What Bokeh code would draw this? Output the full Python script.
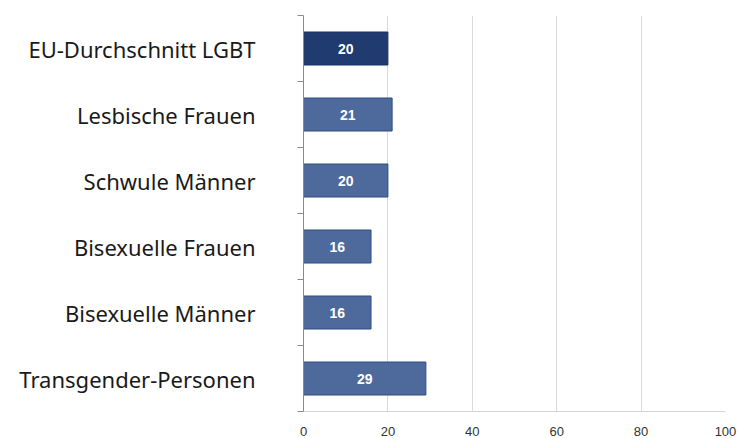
from bokeh.plotting import figure
from bokeh.models import LinearAxis, FixedTicker, ColumnDataSource, Range1d
from bokeh.core.properties import value
from bokeh.embed import file_html
from bokeh.resources import INLINE

categories = ["EU-Durchschnitt LGBT", "Lesbische Frauen", "Schwule Männer",
              "Bisexuelle Frauen", "Bisexuelle Männer", "Transgender-Personen"]
values = [20, 21, 20, 16, 16, 29]
x_ticks = [0, 20, 40, 60, 80, 100]

n = len(categories)
ys = [n - 0.5 - i for i in range(n)]
fills = ["#1f3b70"] + ["#4e6a9c"] * (n - 1)
lines = ["#1a3263"] + ["#2f4d80"] * (n - 1)

src = ColumnDataSource(dict(y=ys, v=values, half=[v / 2 for v in values],
                            lbl=[str(v) for v in values], fill=fills, line=lines))

p = figure(width=739, height=438, output_backend="svg", toolbar_location=None,
           x_range=Range1d(0, 100), y_range=Range1d(0, n),
           min_border_left=303, min_border_right=14, min_border_top=15, min_border_bottom=24,
           x_axis_location="below", y_axis_location=None)
p.outline_line_color = None
p.background_fill_color = "white"
p.border_fill_color = "white"

p.hbar(y="y", right="v", left=0, height=0.5, source=src,
       fill_color="fill", line_color="line", line_width=1)
p.text(x="half", y="y", text="lbl", source=src, text_color="white",
       text_font=value("Liberation Sans"), text_font_style="bold",
       text_font_size="14px", text_align="center", text_baseline="middle")

# x axis
xa = p.xaxis[0]
xa.ticker = FixedTicker(ticks=x_ticks)
xa.axis_line_color = "#d4d4d4"
xa.major_tick_line_color = None
xa.minor_tick_line_color = None
xa.major_label_text_font = "Liberation Sans"
xa.major_label_text_font_size = "13px"
xa.major_label_text_color = "#333333"
xa.major_label_standoff = 9

p.xgrid.ticker = FixedTicker(ticks=x_ticks[1:])
p.xgrid.grid_line_color = "#d9d9d9"
p.ygrid.grid_line_color = None

# y axis with ticks at category boundaries (no labels)
bounds = list(range(n + 1))
ya = LinearAxis(ticker=FixedTicker(ticks=bounds))
ya.major_label_overrides = {b: "" for b in bounds}
ya.axis_line_color = "#8a8a8a"
ya.major_tick_line_color = "#8a8a8a"
ya.major_tick_out = 6
ya.major_tick_in = 0
ya.minor_tick_line_color = None
ya.major_label_standoff = 0
p.add_layout(ya, "left")

# category labels axis
la = LinearAxis(ticker=FixedTicker(ticks=ys))
la.major_label_overrides = {y: c for y, c in zip(ys, categories)}
la.axis_line_color = None
la.major_tick_line_color = None
la.minor_tick_line_color = None
la.major_label_text_font = "Noto Sans"
la.major_label_text_font_size = "22px"
la.major_label_text_color = "#1a1a1a"
la.major_label_standoff = 36
p.add_layout(la, "left")

open("out.html", "w").write(file_html(p, INLINE))
